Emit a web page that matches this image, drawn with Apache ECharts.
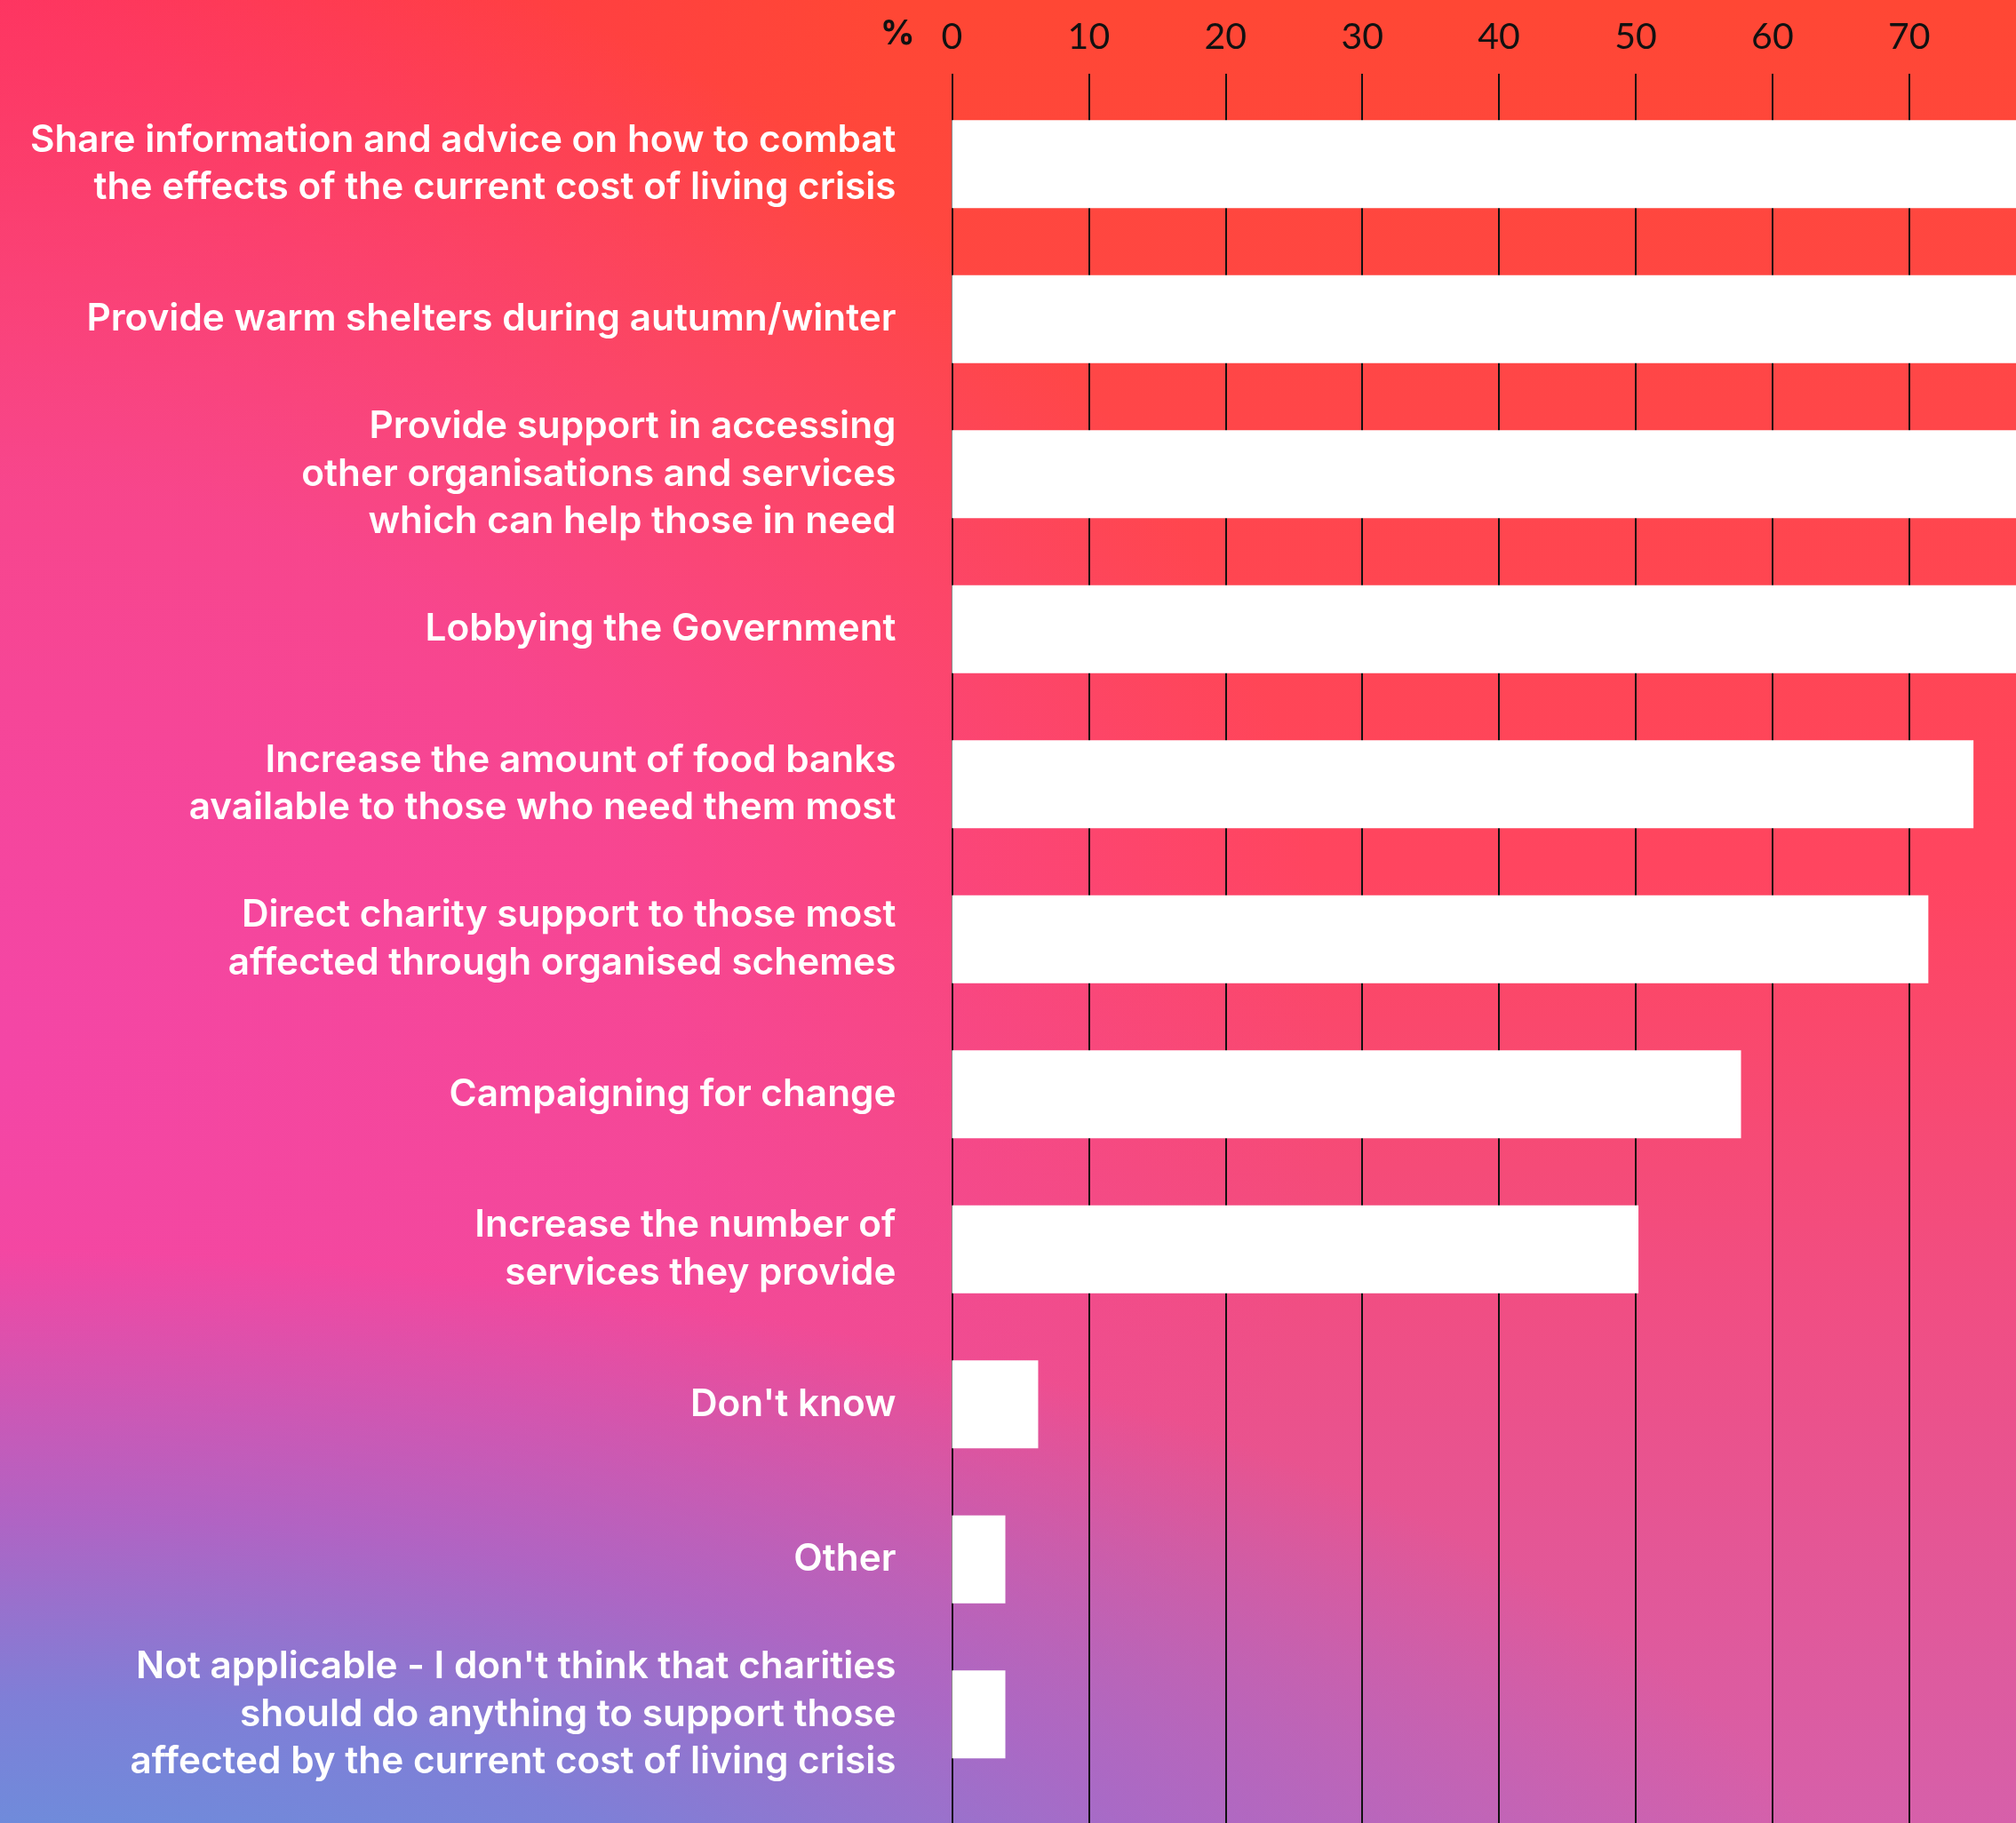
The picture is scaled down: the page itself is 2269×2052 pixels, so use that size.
<!DOCTYPE html>
<html>
<head>
<meta charset="utf-8">
<script src="https://cdn.jsdelivr.net/npm/echarts@6/dist/echarts.min.js"></script>
<style>
  html, body { margin: 0; padding: 0; }
  #bg {
    position: absolute; left: 0; top: 0; width: 2269px; height: 2052px;
    background:
      radial-gradient(ellipse 2100px 850px at 0% 110%, rgba(90,156,224,1) 0%, rgba(120,130,218,0.95) 40%, rgba(150,110,210,0.7) 65%, rgba(200,100,190,0) 100%),
      radial-gradient(ellipse 1500px 1300px at 0% 58%, rgba(244,70,166,1) 0%, rgba(244,70,166,0.7) 50%, rgba(244,70,166,0) 100%),
      radial-gradient(ellipse 1000px 600px at 0% 0%, rgba(255,44,100,0.75) 0%, rgba(255,44,100,0) 100%),
      linear-gradient(to bottom, #FF4734 0%, #FF4560 48%, #F04E84 72%, #D660AA 100%);
  }
  #chart { position: absolute; left: 0; top: 0; width: 2269px; height: 2052px; }
</style>
</head>
<body>
<div id="bg"></div>
<div id="chart"></div>
<script>
// Survey answers, in the order they are listed down the chart
const categories = [
  "Share information and advice on how to combat\nthe effects of the current cost of living crisis",
  "Provide warm shelters during autumn/winter",
  "Provide support in accessing\nother organisations and services\nwhich can help those in need",
  "Lobbying the Government",
  "Increase the amount of food banks\navailable to those who need them most",
  "Direct charity support to those most\naffected through organised schemes",
  "Campaigning for change",
  "Increase the number of\nservices they provide",
  "Don't know",
  "Other",
  "Not applicable - I don't think that charities\nshould do anything to support those\naffected by the current cost of living crisis"
];

// Share of respondents (%)
const shares = [85, 82, 80, 79, 74.7, 71.4, 57.7, 50.2, 6.3, 3.9, 3.9];

// Percentage scale
const axisMin = 0;
const axisMax = 100;
const axisStep = 10;

const chart = echarts.init(document.getElementById('chart'), null, { renderer: 'canvas' });

// The plot runs on past the right edge of the page
const plotLeft = 1071.5;
const plotWidth = 1539;

const labelFont = 'Inter, "Noto Sans", sans-serif';

chart.setOption({
  backgroundColor: 'transparent',
  animation: false,
  graphic: [{
    type: 'text',
    left: 991,
    top: 20,
    style: {
      text: '%',
      fill: '#111',
      fontSize: 38,
      fontWeight: 'bold',
      fontFamily: labelFont
    }
  }],
  grid: [
    { left: plotLeft, width: plotWidth, top: 97.6, bottom: 34.9, containLabel: false, outerBoundsMode: 'none' },
    { left: plotLeft, width: plotWidth, top: 83, bottom: 0, containLabel: false, outerBoundsMode: 'none' }
  ],
  xAxis: [
    {
      gridIndex: 0, type: 'value', min: axisMin, max: axisMax, interval: axisStep,
      show: false
    },
    {
      gridIndex: 1, type: 'value', min: axisMin, max: axisMax, interval: axisStep,
      position: 'top',
      axisLine: { show: false },
      axisTick: { show: false },
      axisLabel: {
        color: '#111', fontSize: 41, fontFamily: 'Lato, "Noto Sans", sans-serif',
        fontWeight: 'normal', margin: 21
      },
      splitLine: { show: true, lineStyle: { color: '#111', width: 2 } }
    }
  ],
  yAxis: [
    {
      gridIndex: 0, type: 'category', data: categories, inverse: true,
      axisLine: { show: false },
      axisTick: { show: false },
      splitLine: { show: false },
      axisLabel: {
        color: '#ffffff', fontSize: 42.3, fontWeight: 600, lineHeight: 53.5,
        fontFamily: labelFont, align: 'right', margin: 63
      }
    },
    {
      gridIndex: 1, type: 'value', min: 0, max: 1, show: false
    }
  ],
  series: [
    {
      type: 'bar', xAxisIndex: 0, yAxisIndex: 0,
      data: shares, barWidth: 99,
      itemStyle: { color: '#ffffff' },
      z: 3
    },
    {
      type: 'bar', xAxisIndex: 1, yAxisIndex: 1, data: []
    }
  ]
});
</script>
</body>
</html>
